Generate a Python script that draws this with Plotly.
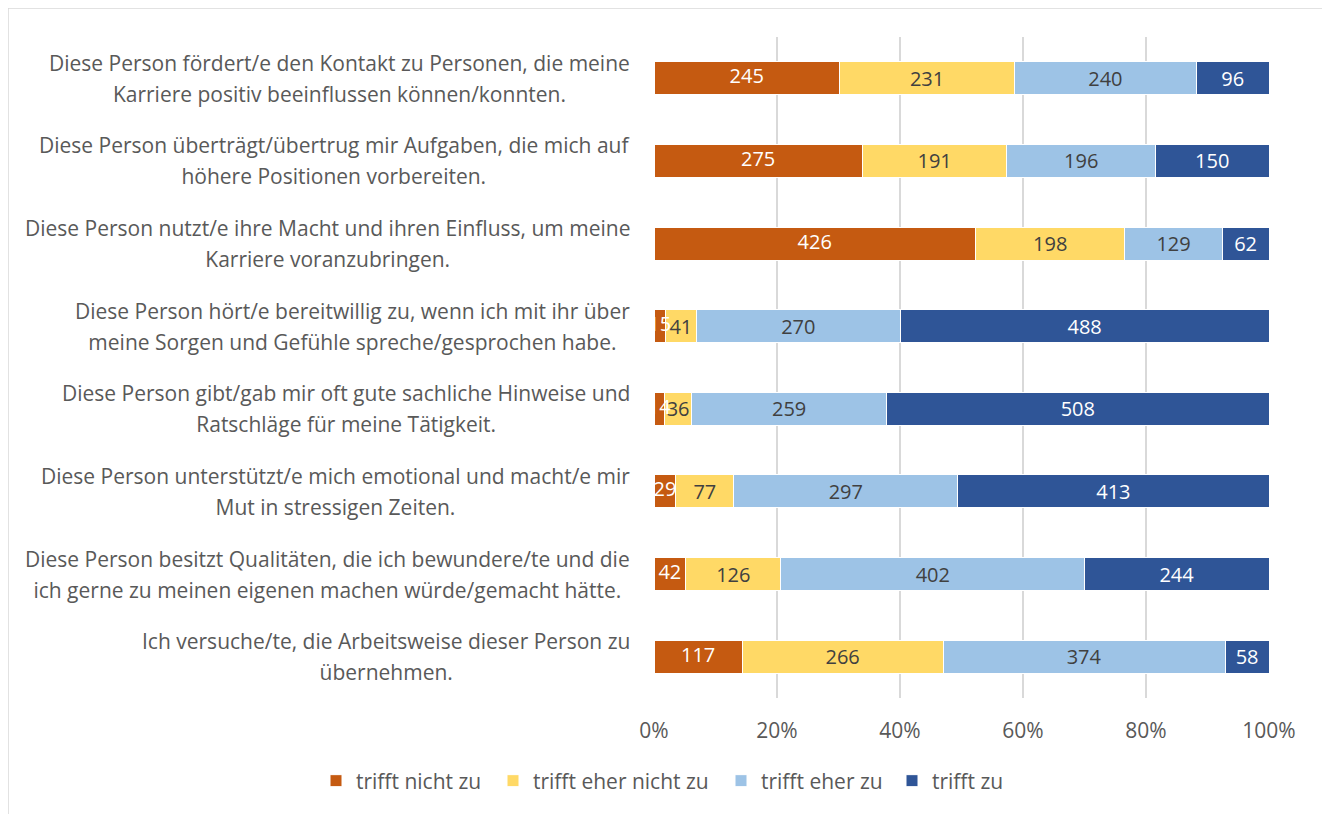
import plotly.graph_objects as go

categories = [
    "Diese Person fördert/e den Kontakt zu Personen, die meine<br>Karriere positiv beeinflussen können/konnten.",
    "Diese Person überträgt/übertrug mir Aufgaben, die mich auf<br>höhere Positionen vorbereiten.",
    "Diese Person nutzt/e ihre Macht und ihren Einfluss, um meine<br>Karriere voranzubringen.",
    "Diese Person hört/e bereitwillig zu, wenn ich mit ihr über<br>meine Sorgen und Gefühle spreche/gesprochen habe.",
    "Diese Person gibt/gab mir oft gute sachliche Hinweise und<br>Ratschläge für meine Tätigkeit.",
    "Diese Person unterstützt/e mich emotional und macht/e mir<br>Mut in stressigen Zeiten.",
    "Diese Person besitzt Qualitäten, die ich bewundere/te und die<br>ich gerne zu meinen eigenen machen würde/gemacht hätte.",
    "Ich versuche/te, die Arbeitsweise dieser Person zu<br>übernehmen.",
]

series_names = ["trifft nicht zu", "trifft eher nicht zu", "trifft eher zu", "trifft zu"]
trifft_nicht_zu = [245, 275, 426, 15, 14, 29, 42, 117]
trifft_eher_nicht_zu = [231, 191, 198, 41, 36, 77, 126, 266]
trifft_eher_zu = [240, 196, 129, 270, 259, 297, 402, 374]
trifft_zu = [96, 150, 62, 488, 508, 413, 244, 58]

tick_vals = [0, 20, 40, 60, 80, 100]
tick_text = ["0%", "20%", "40%", "60%", "80%", "100%"]

colors = ["#C55A11", "#FFD966", "#9DC3E6", "#2F5597"]
text_colors = ["#FFFFFF", "#404040", "#404040", "#FFFFFF"]
FONT = "Open Sans"
FS = 21      # label / tick / legend font size
FSB = 20     # data label font size

W, H = 1322, 806
L, R, T, B = 646, 61, 29, 116
PW, PH = W - L - R, H - T - B

# legend square left edges (page px) in the reference
legend_left = [337, 514, 742, 913]
legend_ids = ["legend", "legend2", "legend3", "legend4"]

all_series = [trifft_nicht_zu, trifft_eher_nicht_zu, trifft_eher_zu, trifft_zu]
totals = [sum(v) for v in zip(*all_series)]

fig = go.Figure()
for i, (name, vals, col, tcol, lid) in enumerate(zip(series_names, all_series,
                                                     colors, text_colors, legend_ids)):
    fig.add_trace(go.Bar(
        y=categories, x=vals, name=name, orientation="h",
        marker=dict(color=col, line=dict(color="#FFFFFF", width=1)),
        text=None if i == 0 else [str(v) for v in vals],
        textposition="inside",
        insidetextanchor="middle", textangle=0,
        textfont=dict(color=tcol, size=FSB, family=FONT),
        hoverinfo="x+y+name", legend=lid, showlegend=True,
    ))

# labels of the first series drawn on top (so small values may overflow like in the original)
first_mid = [v / t * 100 / 2 for v, t in zip(trifft_nicht_zu, totals)]
fig.add_trace(go.Scatter(
    x=first_mid, y=categories, mode="text",
    text=[str(v) for v in trifft_nicht_zu],
    textposition="middle center",
    textfont=dict(color=text_colors[0], size=FSB, family=FONT),
    showlegend=False, hoverinfo="skip", cliponaxis=False,
))

# category labels: centered lines, right-anchored block, wider line spacing
annotations = []
for cat in categories:
    lines = cat.split("<br>")
    txt = "<br>".join(f'<span style="font-size:{FS}px">{ln}</span>' for ln in lines)
    annotations.append(dict(
        x=0, xref="paper", xanchor="right", xshift=-22,
        y=cat, yref="y", yanchor="middle",
        text=txt, align="center", showarrow=False,
        font=dict(family=FONT, size=24, color="#595959"),
    ))

legend_common = dict(orientation="h", yanchor="middle", y=-83 / PH, xanchor="left",
                     font=dict(size=FS, color="#595959", family=FONT),
                     bgcolor="rgba(0,0,0,0)")
legends = {}
for lid, lx in zip(legend_ids, legend_left):
    legends[lid] = dict(legend_common, x=(lx - 8 - 21 - L) / PW)

fig.update_layout(
    barmode="stack", barnorm="percent", bargap=0.6,
    width=W, height=H, showlegend=True,
    margin=dict(l=L, r=R, t=T, b=B),
    paper_bgcolor="white", plot_bgcolor="white",
    font=dict(family=FONT, size=FS, color="#595959"),
    uniformtext=dict(minsize=FSB, mode="show"),
    annotations=annotations,
    shapes=[dict(type="rect", xref="paper", yref="paper",
                 x0=(0 - L) / PW, x1=(1317 - L) / PW,
                 y0=(PH + T - 830) / PH, y1=(PH + T) / PH,
                 line=dict(color="#D9D9D9", width=1.5), layer="below")],
    **legends,
)
fig.update_xaxes(range=[0, 100], tickvals=tick_vals, ticktext=tick_text,
                 showgrid=True, gridcolor="#D9D9D9", gridwidth=2,
                 zeroline=False, showline=False, ticks="",
                 ticklabelstandoff=18,
                 tickfont=dict(size=FS, color="#595959"))
fig.update_yaxes(autorange="reversed", showgrid=False, zeroline=False,
                 showline=False, ticks="", showticklabels=False)

fig.write_html("out.html")
